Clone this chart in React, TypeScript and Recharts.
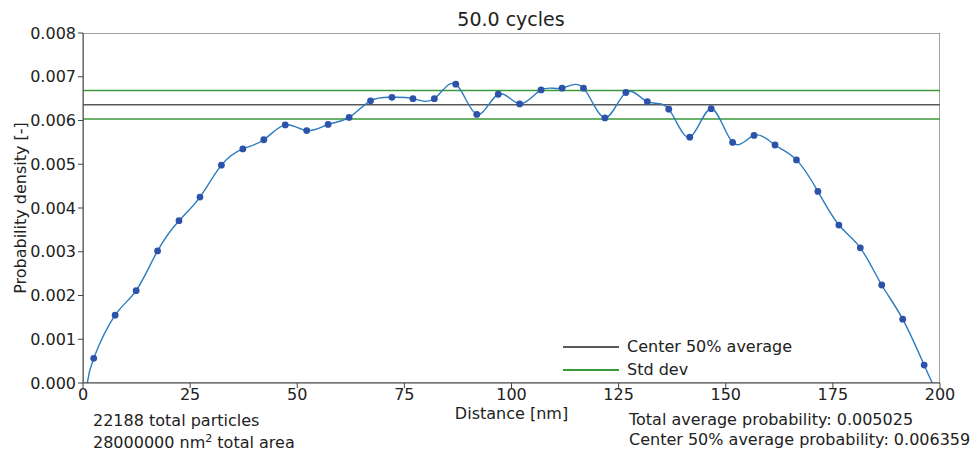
import {
  ComposedChart,
  Line,
  Scatter,
  XAxis,
  YAxis,
  ReferenceLine,
  ReferenceArea,
} from "recharts";

// Bin centres along the channel [nm] and the measured probability density per bin
const distance = [
  2.5, 7.5, 12.4, 17.4, 22.4, 27.3, 32.3, 37.3, 42.2, 47.2, 52.2, 57.2, 62.1,
  67.1, 72.1, 77.0, 82.0, 87.0, 91.9, 96.9, 101.9, 106.9, 111.8, 116.8, 121.8,
  126.7, 131.7, 136.7, 141.6, 146.6, 151.6, 156.6, 161.5, 166.5, 171.5, 176.4,
  181.4, 186.4, 191.3, 196.3,
];
const density = [
  0.000565, 0.00155, 0.00211, 0.00302, 0.00371, 0.00425, 0.00498, 0.00535,
  0.00556, 0.0059, 0.00577, 0.00591, 0.00607, 0.00645, 0.00653, 0.0065,
  0.0065, 0.00683, 0.00614, 0.0066, 0.00638, 0.0067, 0.00674, 0.00674,
  0.00606, 0.00664, 0.00643, 0.00626, 0.00562, 0.00627, 0.0055, 0.00566,
  0.00544, 0.0051, 0.00438, 0.00361, 0.00309, 0.00224, 0.00146, 0.00041,
];

// Where the fitted curve meets zero on either wall
const curveStart = { x: 1.0, y: 0 };
const curveEnd = { x: 198.2, y: 0 };

const xTicks = [0, 25, 50, 75, 100, 125, 150, 175, 200];
const yTicks = [0, 0.001, 0.002, 0.003, 0.004, 0.005, 0.006, 0.007, 0.008];

const centerAverage = 0.006359;
const stdDev = 0.000325;
const totalAverage = 0.005025;
const totalParticles = 22188;
const totalArea = 28000000;
const cycles = 50.0;

const FONT = "'DejaVu Sans', sans-serif";
const FS = 16;
const INK = "#222";
const AXIS = "#444";
const GRAY = "#5a5a5a";
const GREEN = "#3a9a3a";

const points = distance.map((x, i) => ({ x, y: density[i] }));
const curve = [curveStart, ...points, curveEnd];

function LegendBox() {
  const rows = [
    { label: "Center 50% average", color: GRAY },
    { label: "Std dev", color: GREEN },
  ];
  return (
    <div
      style={{
        position: "absolute",
        left: 563,
        top: 335,
        fontFamily: FONT,
        fontSize: FS,
        color: INK,
      }}
    >
      {rows.map((r) => (
        <div
          key={r.label}
          style={{ display: "flex", alignItems: "center", height: 23 }}
        >
          <div
            style={{
              width: 56,
              height: 2,
              background: r.color,
              marginRight: 8,
            }}
          />
          <span>{r.label}</span>
        </div>
      ))}
    </div>
  );
}

export default function App() {
  const textStyle: React.CSSProperties = {
    position: "absolute",
    fontFamily: FONT,
    fontSize: FS,
    color: INK,
    whiteSpace: "nowrap",
    lineHeight: `${FS}px`,
  };

  return (
    <div
      style={{
        position: "absolute",
        left: 0,
        top: 0,
        width: 975,
        height: 451,
        background: "#fff",
        overflow: "hidden",
      }}
    >
      <div
        style={{
          ...textStyle,
          fontSize: 19,
          lineHeight: "19px",
          left: 0,
          width: 1022,
          top: 10,
          textAlign: "center",
        }}
      >
        {cycles.toFixed(1)} cycles
      </div>

      <ComposedChart
        width={975}
        height={451}
        margin={{ top: 33, right: 35, bottom: 0, left: 0 }}
      >
        <XAxis
          dataKey="x"
          type="number"
          domain={[0, 200]}
          ticks={xTicks}
          allowDataOverflow
          height={68}
          stroke={AXIS}
          tickSize={5}
          tickMargin={1}
          tick={{ fontSize: FS, fill: INK, fontFamily: FONT }}
          label={{
            value: "Distance [nm]",
            position: "insideTop",
            offset: 25,
            style: { fontSize: FS, fill: INK, fontFamily: FONT },
          }}
        />
        <YAxis
          dataKey="y"
          type="number"
          domain={[0, 0.008]}
          ticks={yTicks}
          allowDataOverflow
          width={83}
          stroke={AXIS}
          tickSize={5}
          tickMargin={2}
          tickFormatter={(v: number) => v.toFixed(3)}
          tick={{ fontSize: FS, fill: INK, fontFamily: FONT }}
          label={{
            value: "Probability density [-]",
            angle: -90,
            position: "insideLeft",
            offset: 20,
            style: {
              fontSize: FS,
              fill: INK,
              fontFamily: FONT,
              textAnchor: "middle",
            },
          }}
        />
        <ReferenceArea
          x1={0}
          x2={200}
          y1={0}
          y2={0.008}
          fill="none"
          stroke={AXIS}
          strokeWidth={1}
          ifOverflow="hidden"
        />
        <ReferenceLine
          y={centerAverage + stdDev}
          stroke={GREEN}
          strokeWidth={1.5}
        />
        <ReferenceLine y={centerAverage} stroke={GRAY} strokeWidth={1.5} />
        <ReferenceLine
          y={centerAverage - stdDev}
          stroke={GREEN}
          strokeWidth={1.5}
        />
        <Line
          data={curve}
          dataKey="y"
          type="natural"
          stroke="#2b7bbf"
          strokeWidth={1.4}
          dot={false}
          isAnimationActive={false}
        />
        <Scatter
          data={points}
          dataKey="y"
          fill="#2d52aa"
          shape={(p: any) => (
            <circle cx={p.cx} cy={p.cy} r={3.4} fill="#2d52aa" />
          )}
          isAnimationActive={false}
        />
      </ComposedChart>

      <LegendBox />

      <div style={{ ...textStyle, left: 93, top: 413 }}>
        {totalParticles} total particles
      </div>
      <div style={{ ...textStyle, left: 93, top: 435 }}>
        {totalArea} nm<sup style={{ fontSize: 11, lineHeight: 0 }}>2</sup>{" "}
        total area
      </div>
      <div style={{ ...textStyle, left: 629, top: 412 }}>
        Total average probability: {totalAverage.toFixed(6)}
      </div>
      <div style={{ ...textStyle, left: 629, top: 432 }}>
        Center 50% average probability: {centerAverage.toFixed(6)}
      </div>
    </div>
  );
}
